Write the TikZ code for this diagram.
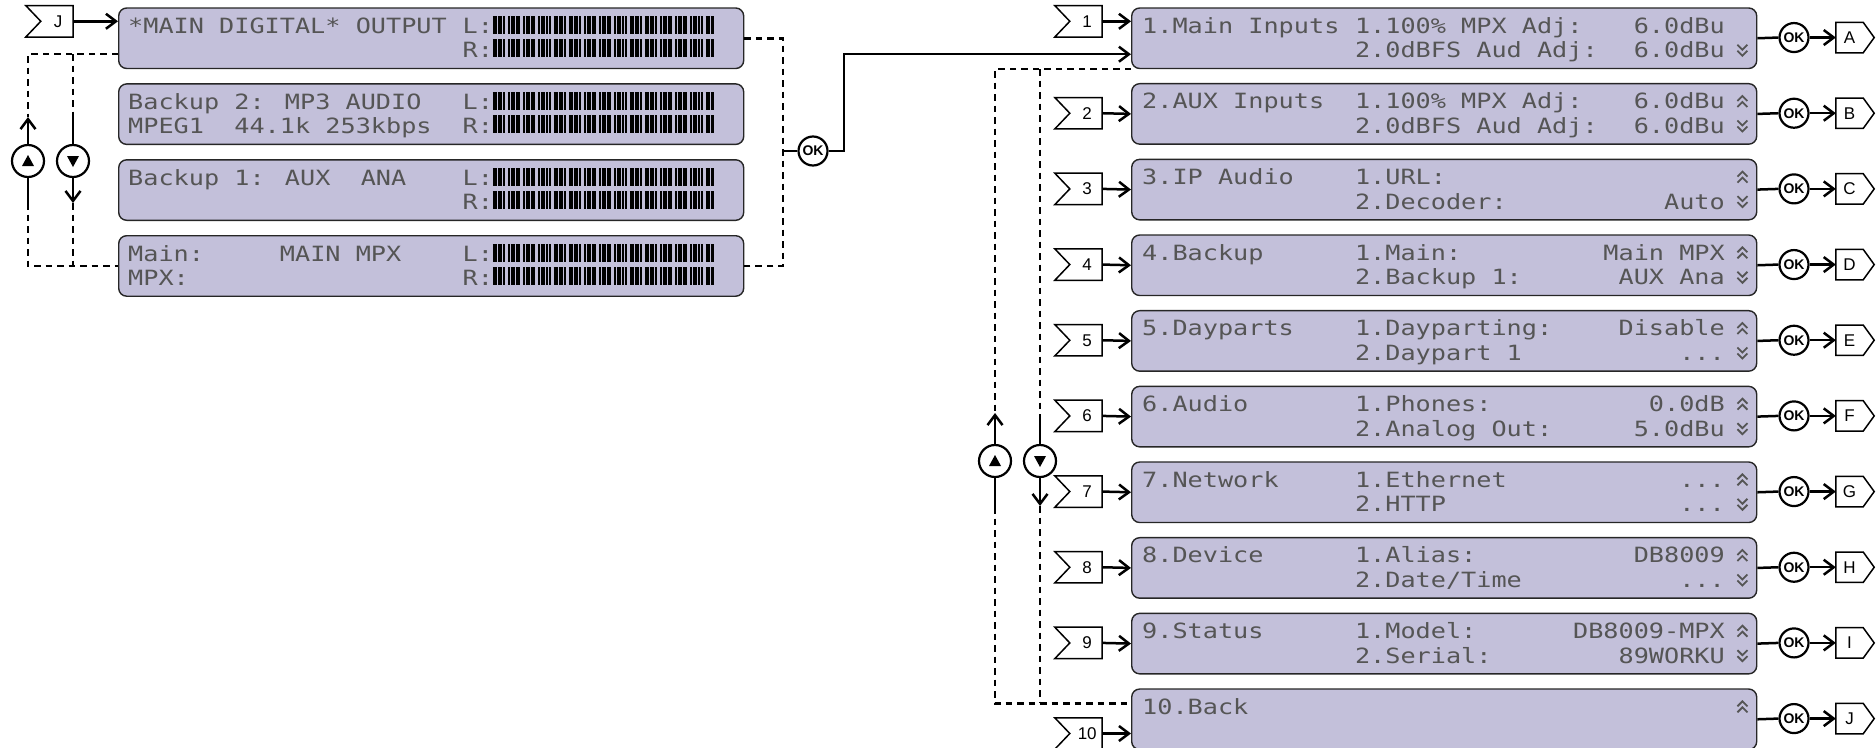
\documentclass[tikz,border=0pt]{standalone}
\usepackage{fontspec}
\setmainfont{Liberation Sans}
\newfontfamily\lcdfont[FakeStretch=1.2]{DejaVu Sans Mono}
\usetikzlibrary{arrows.meta}
\definecolor{lcdbg}{HTML}{C3C0DA}
\definecolor{lcdink}{HTML}{555555}

\tikzset{
  lcd/.style={draw=black!85, line width=1.4pt, fill=lcdbg, rounded corners=8pt,
    minimum width=625pt, minimum height=60.5pt, inner sep=0pt, anchor=north west},
  lcdtxt/.style={font=\lcdfont\fontsize{21}{21}\selectfont, text=lcdink, inner sep=0pt, anchor=base west},
  lcdval/.style={lcdtxt, anchor=base east},
  bars/.style={draw=black, line width=18pt,
    dash pattern=on 2pt off 0.53pt on 2pt off 0.53pt on 2pt off 0.53pt on 2pt off 0.53pt on 2pt off 3.08pt},
  scr/.style={draw=lcdink, line width=1.8pt},
  ln/.style={draw=black, line width=2.5pt},
  arr/.style={ln, -{Straight Barb[length=10pt,width=15pt]}},
  dsh/.style={draw=black, line width=2.5pt, dash pattern=on 6.5pt off 5pt},
  tagln/.style={draw=black, line width=1.5pt, fill=white},
  tagfont/.style={font=\fontsize{17}{17}\selectfont, inner sep=0pt},
  okc/.style={circle, draw=black, line width=2.2pt, fill=white, minimum size=29pt, inner sep=0pt,
    font=\bfseries\fontsize{14}{14}\selectfont},
  udc/.style={circle, draw=black, line width=2.2pt, fill=white, minimum size=32pt, inner sep=0pt},
  intag/.pic={
    \node[inner sep=0pt, minimum width=47pt, minimum height=31pt] (-b) {};
    \draw[tagln] (-b.north west) -- (-b.north east) -- (-b.south east) -- (-b.south west)
      -- ([xshift=15pt]-b.west) -- cycle;
    \node[tagfont] (-t) at ([xshift=-15pt]-b.east) {#1};
  },
  outtag/.pic={
    \node[inner sep=0pt, minimum width=38pt, minimum height=30pt] (-b) {};
    \draw[tagln] (-b.north west) -- ([xshift=-11pt]-b.north east) -- (-b.east)
      -- ([xshift=-11pt]-b.south east) -- (-b.south west) -- cycle;
    \node[tagfont] (-t) at ([xshift=-5.5pt]-b.center) {#1};
  },
  scrup/.pic={\draw[scr] (-5,-0.5) -- (0,-5.5) -- (5,-0.5) (-5,5.5) -- (0,0.5) -- (5,5.5);},
  scrdn/.pic={\draw[scr] (-5,0.5) -- (0,5.5) -- (5,0.5) (-5,-5.5) -- (0,-0.5) -- (5,-5.5);},
}

\newcommand\ifnotempty[2]{\if\relax\detokenize{#1}\relax\else #2\fi}

% right-hand menu box
\newcommand\rbox[8]{%
  \node[lcd] (R#1) at (1131,{7.3+75.67*(#1-1)}) {};
  \node[lcdtxt] (R#1-h) at ([shift={(11,26)}]R#1.north west) {#2};
  \ifnotempty{#3}{\node[lcdtxt] (R#1-a) at ([shift={(223.8,26)}]R#1.north west) {#3};}
  \ifnotempty{#4}{\node[lcdval] (R#1-av) at ([shift={(594,26)}]R#1.north west) {#4};}
  \ifnotempty{#5}{\node[lcdtxt] (R#1-b) at ([shift={(223.8,50.5)}]R#1.north west) {#5};}
  \ifnotempty{#6}{\node[lcdval] (R#1-bv) at ([shift={(594,50.5)}]R#1.north west) {#6};}
  \ifnum#7=1 \pic at ([shift={(611.4,18.5)}]R#1.north west) {scrup};\fi
  \ifnum#8=1 \pic at ([shift={(611.4,43)}]R#1.north west) {scrdn};\fi
}
% left-hand display box
\newcommand\lbox[3]{%
  \node[lcd] (L#1) at (118,{7.3+75.9*(#1-1)}) {};
  \ifnotempty{#2}{\node[lcdtxt] (L#1-a) at ([shift={(10,26)}]L#1.north west) {#2};}
  \ifnotempty{#3}{\node[lcdtxt] (L#1-b) at ([shift={(10,50)}]L#1.north west) {#3};}
  \node[lcdtxt] (L#1-l) at ([shift={(344.4,26)}]L#1.north west) {L:};
  \node[lcdtxt] (L#1-r) at ([shift={(344.4,50)}]L#1.north west) {R:};
  \draw[bars] ([shift={(374.8,17.5)}]L#1.north west) -- ++(221,0);
  \draw[bars] ([shift={(374.8,41)}]L#1.north west) -- ++(221,0);
}

\begin{document}
\begin{tikzpicture}[x=1pt,y=-1pt]
\useasboundingbox (0,0) rectangle (1876,747);

% ---------- left displays ----------
\lbox{1}{*MAIN DIGITAL* OUTPUT}{}
\lbox{2}{Backup 2: MP3 AUDIO}{MPEG1~~44.1k 253kbps}
\lbox{3}{Backup 1: AUX~~ANA}{}
\lbox{4}{Main:~~~~~MAIN MPX}{MPX:}

% J input tag
\pic (ij) at (49.5,21.3) {intag=J};
\draw[arr] (ij-b.east) -- (ij-b.east -| L1.west);

% left up/down navigation
\coordinate (lhook) at ([yshift=15pt]L1.south west);
\node[udc] (lu) at (28,161) {};
\node[udc] (ld) at (73,161) {};
\fill ([yshift=6pt]lu.center) -- ([xshift=-6pt,yshift=-5pt]lu.center) -- ([xshift=6pt,yshift=-5pt]lu.center) -- cycle;
\fill ([yshift=-6pt]ld.center) -- ([xshift=-6pt,yshift=5pt]ld.center) -- ([xshift=6pt,yshift=5pt]ld.center) -- cycle;
\coordinate (lutop) at (28,117);
\coordinate (lubot) at (28,203);
\coordinate (ldtop) at (73,117);
\coordinate (ldbot) at (73,203);
\draw[dsh] (lhook) -| (lutop);
\draw[dsh] (lhook -| ldtop) -- (ldtop);
\draw[arr] (lu.north) -- (lutop);
\draw[ln] (lu.south) -- (lubot);
\draw[dsh] (lubot) |- (L4.west);
\draw[ln] (ldtop) -- (ld.north);
\draw[arr] (ld.south) -- (ldbot);
\draw[dsh] (ldbot) -- (ldbot |- L4.west);

% right side of left displays -> OK
\coordinate (lc) at (783,151);
\coordinate (lbend) at (844,151);
\node[okc] (lok) at (813,151) {OK};
\draw[dsh] (L1.east) -| (lc) |- (L4.east);
\draw[ln] (lc) -- (lok.west);

% ---------- right menu ----------
\rbox{1}{1.Main Inputs}{1.100\% MPX Adj:}{6.0dBu}{2.0dBFS Aud Adj:}{6.0dBu}{0}{1}
\rbox{2}{2.AUX Inputs}{1.100\% MPX Adj:}{6.0dBu}{2.0dBFS Aud Adj:}{6.0dBu}{1}{1}
\rbox{3}{3.IP Audio}{1.URL:}{}{2.Decoder:}{Auto}{1}{1}
\rbox{4}{4.Backup}{1.Main:}{Main MPX}{2.Backup 1:}{AUX Ana}{1}{1}
\rbox{5}{5.Dayparts}{1.Dayparting:}{Disable}{2.Daypart 1}{...}{1}{1}
\rbox{6}{6.Audio}{1.Phones:}{0.0dB}{2.Analog Out:}{5.0dBu}{1}{1}
\rbox{7}{7.Network}{1.Ethernet}{...}{2.HTTP}{...}{1}{1}
\rbox{8}{8.Device}{1.Alias:}{DB8009}{2.Date/Time}{...}{1}{1}
\rbox{9}{9.Status}{1.Model:}{DB8009-MPX}{2.Serial:}{89WORKU}{1}{1}
\rbox{10}{10.Back}{}{}{}{}{1}{0}

% OK from left displays into menu item 1
\coordinate (r1ok) at ([yshift=15pt]R1.south west);
\draw[arr] (lok.east) -- (lbend) |- (r1ok);

% input tags
\pic (i1) at (1078.5,21.3) {intag=1};
\draw[arr] (i1-b.east) -- (i1-b.east -| R1.west);
\foreach \k in {2,...,9}{
  \pic (i\k) at (1078.5,{37.55+75.67*(\k-1)}) {intag=\k};
  \draw[arr] (i\k-b.east) -- (R\k.west);
}
\pic (i10) at (1078.5,733.5) {intag=10};
\draw[arr] (i10-b.east) -- (i10-b.east -| R10.west);

% right up/down navigation
\coordinate (r10in) at ([yshift=-15pt]R10.north west);
\node[udc] (ru) at (995,461) {};
\node[udc] (rd) at (1040,461) {};
\fill ([yshift=6pt]ru.center) -- ([xshift=-6pt,yshift=-5pt]ru.center) -- ([xshift=6pt,yshift=-5pt]ru.center) -- cycle;
\fill ([yshift=-6pt]rd.center) -- ([xshift=-6pt,yshift=5pt]rd.center) -- ([xshift=6pt,yshift=5pt]rd.center) -- cycle;
\coordinate (rutop) at (995,413);
\coordinate (rubot) at (995,507);
\coordinate (rdtop) at (1040,416);
\coordinate (rdbot) at (1040,506);
\draw[dsh] (R1.south west) -| (rutop);
\draw[dsh] (R1.south west -| rdtop) -- (rdtop);
\draw[arr] (ru.north) -- (rutop);
\draw[ln] (ru.south) -- (rubot);
\draw[dsh] (rubot) |- (r10in);
\draw[ln] (rdtop) -- (rd.north);
\draw[arr] (rd.south) -- (rdbot);
\draw[dsh] (rdbot) -- (rdbot |- r10in);

% OK buttons and output tags
\foreach \k/\l in {1/A,2/B,3/C,4/D,5/E,6/F,7/G,8/H,9/I,10/J}{
  \node[okc] (ok\k) at (1794,{37.55+75.67*(\k-1)}) {OK};
  \pic (o\k) at (1855,{37.55+75.67*(\k-1)}) {outtag=\l};
  \draw[ln] (R\k.east) -- (ok\k.west);
  \draw[arr] (ok\k.east) -- (o\k-b.west);
}
\end{tikzpicture}
\end{document}
